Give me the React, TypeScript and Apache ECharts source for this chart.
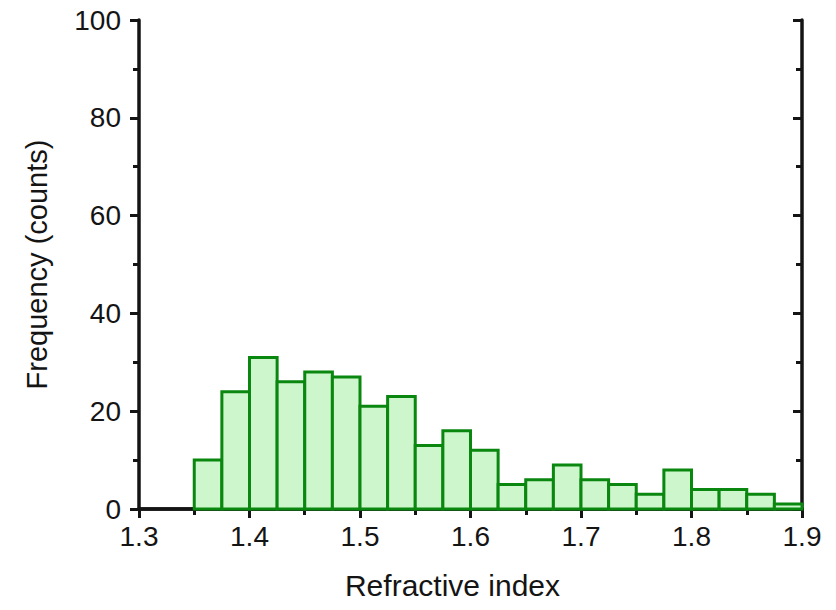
import React, { useEffect, useRef } from "react";
import * as echarts from "echarts";

// Histogram of refractive index values
const binStart = 1.35;
const binWidth = 0.025;
const counts = [10, 24, 31, 26, 28, 27, 21, 23, 13, 16, 12, 5, 6, 9, 6, 5, 3, 8, 4, 4, 3, 1];

const xMin = 1.3;
const xMax = 1.9;
const xInterval = 0.1;
const yMin = 0;
const yMax = 100;
const yInterval = 20;

const xName = "Refractive index";
const yName = "Frequency (counts)";

const FONT = "Liberation Sans, Arial, sans-serif";
const INK = "#141414";
const BAR_EDGE = "#0a870f";
const BAR_FILL = "#cdf6cd";

export default function App() {
  const ref = useRef<HTMLDivElement>(null);

  useEffect(() => {
    if (!ref.current) return;
    const chart = echarts.init(ref.current, undefined, { renderer: "svg" });

    const bins = counts.map((c, i) => [
      binStart + i * binWidth,
      binStart + (i + 1) * binWidth,
      c,
    ]);

    const axisLine = { show: true, lineStyle: { color: INK, width: 3.5 } };
    const tickStyle = { color: INK, width: 3 };

    chart.setOption({
      animation: false,
      backgroundColor: "#ffffff",
      grid: { left: 139, top: 20, right: 34, bottom: 101, containLabel: false },
      xAxis: [
        {
          type: "value",
          position: "bottom",
          min: xMin,
          max: xMax,
          interval: xInterval,
          name: xName,
          nameLocation: "middle",
          nameGap: 61,
          nameTextStyle: {
            fontFamily: FONT,
            fontSize: 30,
            color: INK,
            padding: [0, 36, 0, 0],
          },
          axisLine,
          axisTick: { show: true, inside: false, length: 9, lineStyle: tickStyle },
          minorTick: { show: true, splitNumber: 2, length: 6, lineStyle: tickStyle },
          axisLabel: {
            fontFamily: FONT,
            fontSize: 28,
            color: INK,
            margin: 13,
            formatter: (v: number) => v.toFixed(1),
          },
          splitLine: { show: false },
        },
        {
          type: "value",
          position: "top",
          min: xMin,
          max: xMax,
          interval: xInterval,
          axisLine,
          axisTick: { show: true, inside: true, length: 9, lineStyle: tickStyle },
          minorTick: { show: true, splitNumber: 2, length: 6, lineStyle: tickStyle },
          axisLabel: { show: false },
          splitLine: { show: false },
        },
      ],
      yAxis: [
        {
          type: "value",
          position: "left",
          min: yMin,
          max: yMax,
          interval: yInterval,
          name: yName,
          nameLocation: "middle",
          nameGap: 88,
          nameTextStyle: { fontFamily: FONT, fontSize: 29, color: INK },
          axisLine,
          axisTick: { show: true, inside: false, length: 9, lineStyle: tickStyle },
          minorTick: { show: true, splitNumber: 2, length: 6, lineStyle: tickStyle },
          axisLabel: { fontFamily: FONT, fontSize: 28, color: INK, margin: 18 },
          splitLine: { show: false },
        },
        {
          type: "value",
          position: "right",
          min: yMin,
          max: yMax,
          interval: yInterval,
          axisLine,
          axisTick: { show: true, inside: true, length: 9, lineStyle: tickStyle },
          minorTick: { show: true, splitNumber: 2, length: 6, lineStyle: tickStyle },
          axisLabel: { show: false },
          splitLine: { show: false },
        },
      ],
      series: [
        {
          type: "custom",
          xAxisIndex: 0,
          yAxisIndex: 0,
          data: bins,
          encode: { x: [0, 1], y: 2 },
          renderItem: (_params: any, api: any) => {
            const x0 = api.value(0);
            const x1 = api.value(1);
            const y = api.value(2);
            const p0 = api.coord([x0, y]);
            const p1 = api.coord([x1, 0]);
            return {
              type: "rect",
              shape: { x: p0[0], y: p0[1], width: p1[0] - p0[0], height: p1[1] - p0[1] },
              style: { fill: BAR_FILL, stroke: BAR_EDGE, lineWidth: 3 },
            };
          },
          z: 1,
        },
      ],
    });

    return () => chart.dispose();
  }, []);

  return (
    <div
      ref={ref}
      style={{ position: "absolute", left: 0, top: 0, width: 836, height: 610 }}
    />
  );
}
